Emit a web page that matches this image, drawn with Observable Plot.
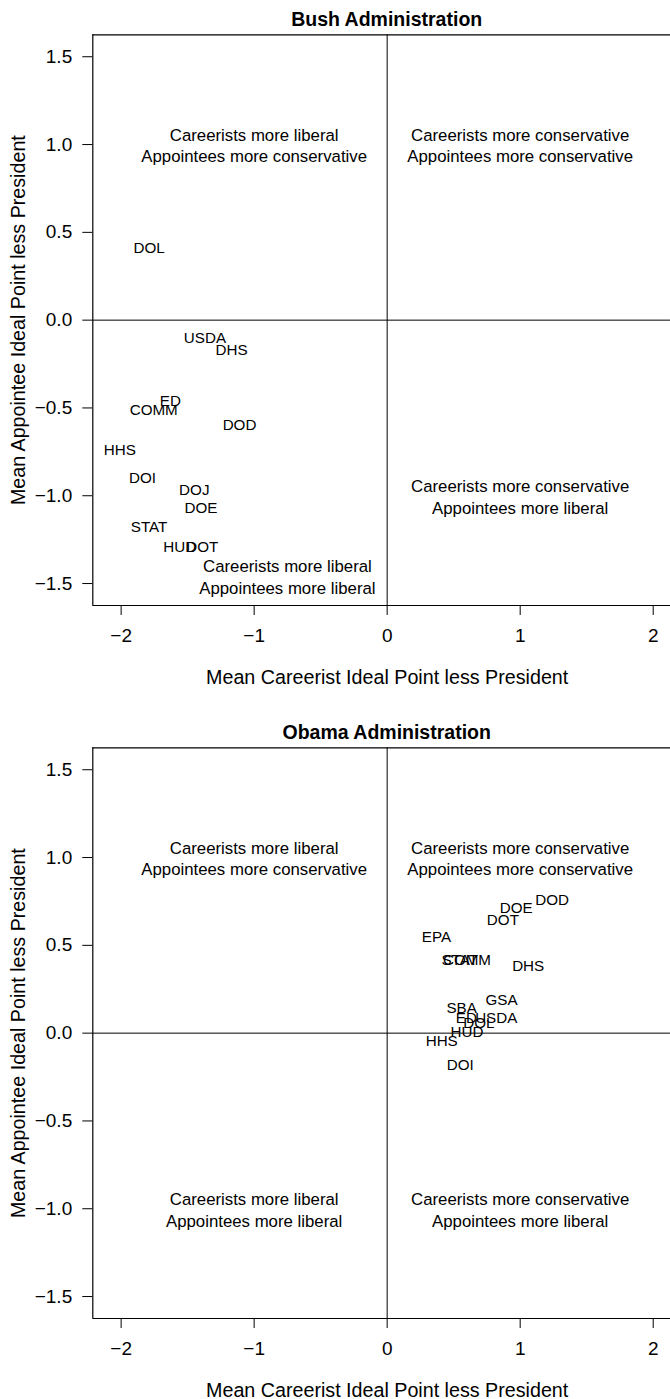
<!DOCTYPE html>
<html><head><meta charset="utf-8">
<script src="https://cdn.jsdelivr.net/npm/d3@7"></script>
<script src="https://cdn.jsdelivr.net/npm/@observablehq/plot@0.6"></script>
<style>
html,body{margin:0;padding:0;background:#fff;overflow:hidden;}
body{width:670px;height:1399px;font-family:"Liberation Sans",Arial,Helvetica,sans-serif;color:#000;}
.panel{position:relative;width:670px;height:713.4px;}
.title{position:absolute;left:386.7px;top:19px;transform:translate(-50%,-50%);font-weight:bold;font-size:19.5px;white-space:nowrap;}
.panel svg{position:absolute;left:0;top:30px;}
</style></head><body>
<div id="root"></div>
<script>
// ---- data ----
const bushAgencies  = ["DOL","USDA","DHS","ED","COMM","DOD","HHS","DOI","DOJ","DOE","STAT","HUD","DOT"];
const bushCareerist = [-1.79,-1.37,-1.17,-1.63,-1.755,-1.11,-2.01,-1.84,-1.45,-1.40,-1.79,-1.56,-1.39];
const bushAppointee = [0.41,-0.10,-0.17,-0.46,-0.51,-0.60,-0.74,-0.90,-0.97,-1.07,-1.18,-1.29,-1.29];

const obamaAgencies  = ["DOD","DOE","DOT","EPA","STAT","COMM","DHS","GSA","SBA","ED","DOL","USDA","HUD","HHS","DOI"];
const obamaCareerist = [1.24,0.97,0.87,0.37,0.545,0.60,1.06,0.86,0.56,0.595,0.69,0.82,0.60,0.41,0.55];
const obamaAppointee = [0.76,0.71,0.645,0.545,0.415,0.415,0.38,0.19,0.14,0.085,0.057,0.085,0.008,-0.045,-0.18];

const quadText = [
  "Careerists more liberal\nAppointees more conservative",
  "Careerists more conservative\nAppointees more conservative",
  "Careerists more conservative\nAppointees more liberal",
  "Careerists more liberal\nAppointees more liberal"
];
const bushQuadX  = [-1, 1, 1, -0.75];
const bushQuadY  = [1, 1, -1, -1.455];
const obamaQuadX = [-1, 1, 1, -1];
const obamaQuadY = [1, 1, -1, -1];

const xTicks = [-2, -1, 0, 1, 2];
const yTicks = [-1.5, -1, -0.5, 0, 0.5, 1, 1.5];
const xDomain = [-2.213, 2.130];
const yDomain = [-1.625, 1.625];
const xLabel = "Mean Careerist Ideal Point less President";
const yLabel = "Mean Appointee Ideal Point less President";
const titles = ["Bush Administration", "Obama Administration"];

// ---- drawing ----
const FONT = '"Liberation Sans", Arial, Helvetica, sans-serif';

function panel(title, agencies, cx, ay, qx, qy) {
  const pts = agencies.map((a, i) => ({a, x: cx[i], y: ay[i]}));
  const quads = quadText.map((t, i) => ({t, x: qx[i], y: qy[i]}));
  const div = document.createElement("div");
  div.className = "panel";
  const t = document.createElement("div");
  t.className = "title";
  t.textContent = title;
  div.appendChild(t);
  const svg = Plot.plot({
    width: 670, height: 683.4,
    marginTop: 4.3, marginLeft: 92.3, marginRight: 0, marginBottom: 108.4,
    x: {domain: xDomain},
    y: {domain: yDomain},
    style: {fontFamily: FONT, fontSize: "19px", color: "#000", background: "#fff", overflow: "visible"},
    marks: [
      Plot.ruleX([0], {stroke: "#000", strokeWidth: 1}),
      Plot.ruleY([0], {stroke: "#000", strokeWidth: 1}),
      Plot.ruleY(yDomain, {stroke: "#000", strokeWidth: 1.2}),
      Plot.ruleX([xDomain[0]], {stroke: "#000", strokeWidth: 1.2}),
      Plot.axisY({ticks: yTicks, tickSize: 10, tickPadding: 10.6, tickFormat: d3.format(".1f"), label: null, fontSize: 19}),
      Plot.axisX({ticks: xTicks, tickSize: 10, tickPadding: 13, tickFormat: d3.format("d"), label: null, fontSize: 19}),
      Plot.text([xLabel], {x: 0, frameAnchor: "bottom", dy: 72, text: d => d, fontSize: 19.7, textAnchor: "middle", lineAnchor: "middle"}),
      Plot.text([yLabel], {y: 0, frameAnchor: "left", dx: -74, rotate: -90, text: d => d, fontSize: 19.7, textAnchor: "middle", lineAnchor: "middle"}),
      Plot.text(quads, {x: "x", y: "y", text: "t", fontSize: 16.8, lineHeight: 1.3}),
      Plot.text(pts, {x: "x", y: "y", text: "a", fontSize: 15.2})
    ]
  });
  div.appendChild(svg);
  return div;
}

const root = document.getElementById("root");
root.appendChild(panel(titles[0], bushAgencies, bushCareerist, bushAppointee, bushQuadX, bushQuadY));
root.appendChild(panel(titles[1], obamaAgencies, obamaCareerist, obamaAppointee, obamaQuadX, obamaQuadY));
</script>
</body></html>
